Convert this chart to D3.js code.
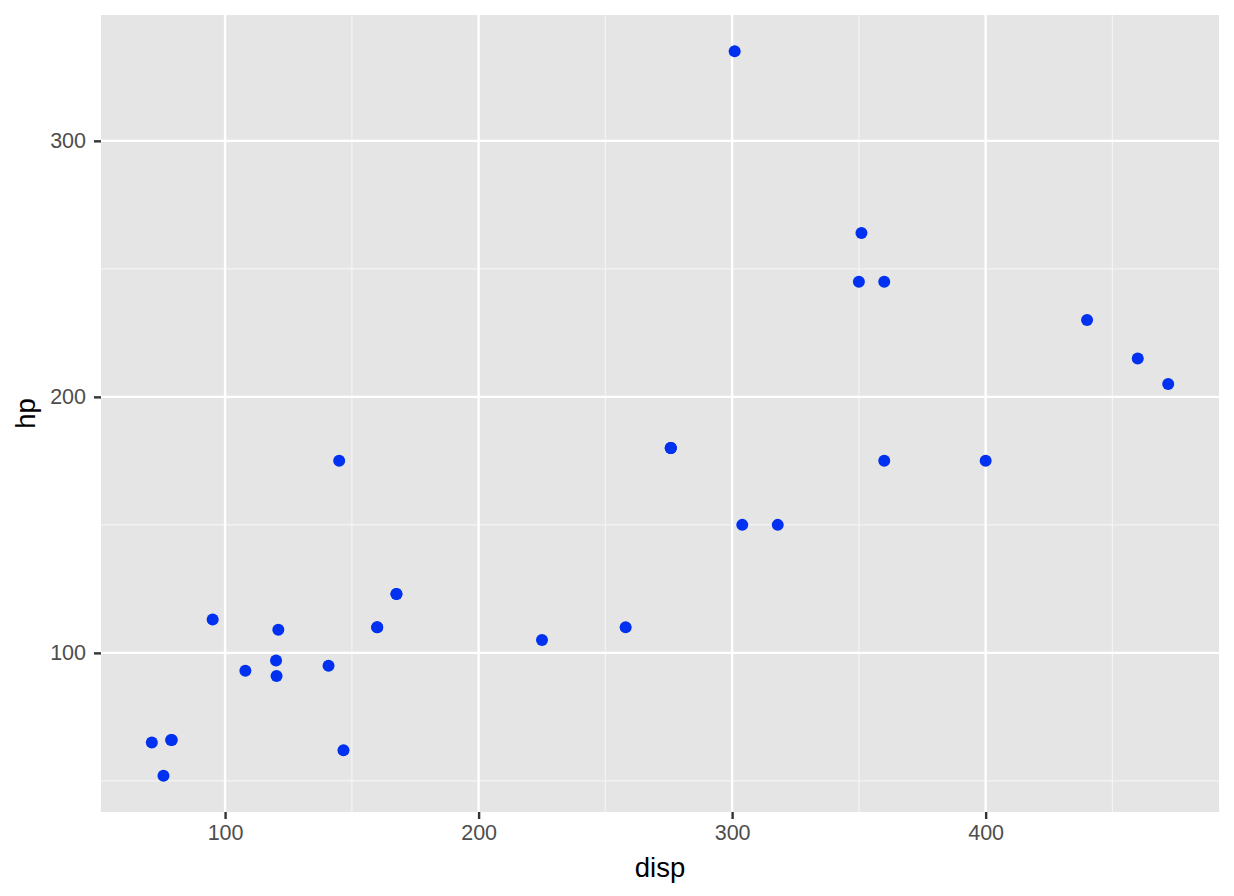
<!DOCTYPE html>
<html><head><meta charset="utf-8">
<script src="https://cdn.jsdelivr.net/npm/d3@7"></script>
<style>body{margin:0;background:#fff}</style>
</head><body>
<svg id="c" width="1234" height="896"></svg>
<script>
const disp = [160,160,108,258,360,225,360,146.7,140.8,167.6,167.6,275.8,275.8,275.8,472,460,440,78.7,75.7,71.1,120.1,318,304,350,400,79,120.3,95.1,351,145,301,121];
const hp = [110,110,93,110,175,105,245,62,95,123,123,180,180,180,205,215,230,66,52,65,97,150,150,245,175,66,91,113,264,175,335,109];
const xTicks = [100,200,300,400];
const yTicks = [100,200,300];
const xMinor = [150,250,350,450];
const yMinor = [50,150,250];

const svg = d3.select("#c");
const L=101, R=1219, T=15, B=812;
const FONT = "Liberation Sans, Arial, sans-serif";
const xr = d3.extent(disp), yr = d3.extent(hp);
const px=(xr[1]-xr[0])*0.05, py=(yr[1]-yr[0])*0.05;
const x = d3.scaleLinear().domain([xr[0]-px, xr[1]+px]).range([L,R]);
const y = d3.scaleLinear().domain([yr[0]-py, yr[1]+py]).range([B,T]);

svg.append("rect").attr("x",L).attr("y",T).attr("width",R-L).attr("height",B-T).attr("fill","#e5e5e5");
const g = svg.append("g");
g.selectAll(".xm").data(xMinor).join("line").attr("x1",d=>x(d)).attr("x2",d=>x(d)).attr("y1",T).attr("y2",B).attr("stroke","#f4f4f4").attr("stroke-width",1.2);
g.selectAll(".ym").data(yMinor).join("line").attr("y1",d=>y(d)).attr("y2",d=>y(d)).attr("x1",L).attr("x2",R).attr("stroke","#f4f4f4").attr("stroke-width",1.2);
g.selectAll(".xM").data(xTicks).join("line").attr("x1",d=>x(d)).attr("x2",d=>x(d)).attr("y1",T).attr("y2",B).attr("stroke","#fff").attr("stroke-width",2.4);
g.selectAll(".yM").data(yTicks).join("line").attr("y1",d=>y(d)).attr("y2",d=>y(d)).attr("x1",L).attr("x2",R).attr("stroke","#fff").attr("stroke-width",2.4);

const xa = svg.append("g").attr("transform",`translate(0,${B})`).call(d3.axisBottom(x).tickValues(xTicks).tickSize(7).tickPadding(6));
const ya = svg.append("g").attr("transform",`translate(${L},0)`).call(d3.axisLeft(y).tickValues(yTicks).tickSize(7).tickPadding(8));
[xa,ya].forEach(a=>{
  a.select(".domain").remove();
  a.selectAll(".tick line").attr("stroke","#333").attr("stroke-width",2.4);
  a.selectAll(".tick text").attr("fill","#4d4d4d").attr("font-family",FONT).attr("font-size","21.5px");
});

svg.append("g").selectAll("circle").data(disp.map((d,i)=>[d,hp[i]])).join("circle")
  .attr("cx",d=>x(d[0])).attr("cy",d=>y(d[1])).attr("r",6).attr("fill","#0030f0");

svg.append("text").attr("x",(L+R)/2).attr("y",877).attr("text-anchor","middle")
  .attr("font-family",FONT).attr("font-size","27.5px").text("disp");
svg.append("text").attr("transform",`translate(35,${(T+B)/2}) rotate(-90)`).attr("text-anchor","middle")
  .attr("font-family",FONT).attr("font-size","27.5px").text("hp");
</script>
</body></html>
